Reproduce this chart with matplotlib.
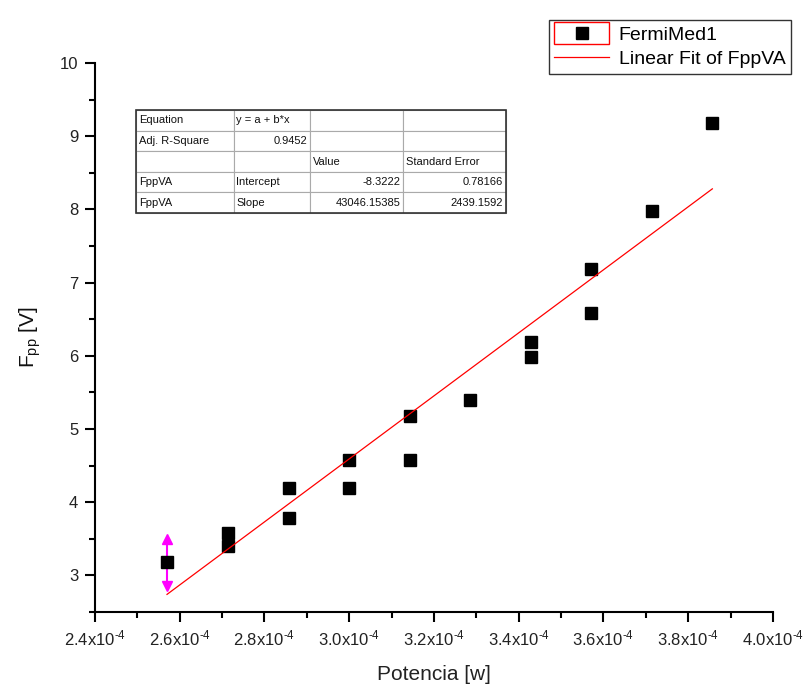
import numpy as np
import matplotlib
matplotlib.use('Agg')
import matplotlib.pyplot as plt
from matplotlib.ticker import MultipleLocator, FuncFormatter
from matplotlib.legend_handler import HandlerBase
from matplotlib.patches import Rectangle
from matplotlib.lines import Line2D

plt.rcParams['font.family'] = ['Liberation Sans', 'DejaVu Sans']
plt.rcParams['mathtext.fontset'] = 'custom'
plt.rcParams['mathtext.rm'] = 'Liberation Sans'
plt.rcParams['mathtext.it'] = 'Liberation Sans:italic'
plt.rcParams['axes.unicode_minus'] = False

# Measured data
potencia = [2.57e-4, 2.714e-4, 2.714e-4, 2.857e-4, 2.857e-4, 3.0e-4, 3.0e-4,
            3.143e-4, 3.143e-4, 3.286e-4, 3.429e-4, 3.429e-4, 3.571e-4, 3.571e-4,
            3.714e-4, 3.857e-4]
fpp = [3.18, 3.58, 3.40, 4.19, 3.78, 4.58, 4.19, 5.18, 4.58, 5.39, 6.19, 5.99,
       7.18, 6.58, 7.98, 9.18]
err_idx = 0
err_val = 0.32

# Fit results
intercept = -8.3222
slope = 43046.15385
table_rows = [
    ["Equation", "y = a + b*x", "", ""],
    ["Adj. R-Square", "0.9452", "", ""],
    ["", "", "Value", "Standard Error"],
    ["FppVA", "Intercept", "-8.3222", "0.78166"],
    ["FppVA", "Slope", "43046.15385", "2439.1592"],
]


class BoxedMarker(HandlerBase):
    # Origin-style legend symbol: marker inside a red box
    def create_artists(self, legend, orig, xd, yd, w, h, fontsize, trans):
        box = Rectangle((xd, yd - 0.3 * h), w, 1.6 * h, fc='none', ec='red', lw=1, transform=trans)
        mk = Line2D([xd + w / 2], [yd + h / 2], marker='s', color='k', ms=8, ls='none', transform=trans)
        return [box, mk]


fig = plt.figure(figsize=(8.09, 7.0), dpi=100)
ax = fig.add_axes([0.1174, 0.1257, 0.838, 0.7843])

sc, = ax.plot(potencia, fpp, 's', color='black', ms=9, label='FermiMed1', zorder=3)

# error bar on the first point
ex, ey = potencia[err_idx], fpp[err_idx]
ax.vlines(ex, ey - err_val, ey + err_val, color='magenta', lw=1.5, zorder=2)
ax.plot([ex], [ey + err_val], marker='^', color='magenta', ms=7, ls='none', zorder=2)
ax.plot([ex], [ey - err_val], marker='v', color='magenta', ms=7, ls='none', zorder=2)

xf = np.array([min(potencia), max(potencia)])
fit, = ax.plot(xf, intercept + slope * xf, color='red', lw=0.9, label='Linear Fit of FppVA', zorder=4)

ax.set_xlim(2.4e-4, 4.0e-4)
ax.set_ylim(2.5, 10)
ax.xaxis.set_major_locator(MultipleLocator(0.2e-4))
ax.xaxis.set_minor_locator(MultipleLocator(0.1e-4))
ax.yaxis.set_major_locator(MultipleLocator(1))
ax.yaxis.set_minor_locator(MultipleLocator(0.5))
ax.xaxis.set_major_formatter(FuncFormatter(lambda v, p: f"{v * 1e4:.1f}x10$^{{\\text{{-4}}}}$"))
ax.yaxis.set_major_formatter(FuncFormatter(lambda v, p: f"{v:g}"))

for s in ['top', 'right']:
    ax.spines[s].set_visible(False)
for s in ['left', 'bottom']:
    ax.spines[s].set_linewidth(1.5)
ax.tick_params(which='major', direction='out', length=7, width=1.5, labelsize=12, colors='black', labelcolor='#222222', pad=5)
ax.tick_params(which='minor', direction='out', length=4, width=1.5)

ax.set_xlabel('Potencia [w]', fontsize=15, color='#222222', labelpad=12)
ax.set_ylabel('F$_{\\rm pp}$ [V]', fontsize=15, color='#111111', labelpad=12)

tbl = ax.table(cellText=table_rows, colWidths=[98, 76, 93, 103],
               bbox=[0.0605, 0.727, 0.546, 0.187], zorder=5)
tbl.auto_set_font_size(False)
tbl.set_fontsize(8)
for (r, c), cell in tbl.get_celld().items():
    cell.set_edgecolor('#aaaaaa')
    cell.set_linewidth(0.8)
    cell.set_facecolor('white')
    txt = table_rows[r][c]
    numeric = txt.replace('.', '').replace('-', '').isdigit()
    cell.set_text_props(ha='right' if numeric else 'left', color='#111111')
    cell.PAD = 0.03
frame = Rectangle((0.0605, 0.727), 0.546, 0.187, transform=ax.transAxes, fc='none', ec='#333333', lw=1.2, zorder=6)
ax.add_patch(frame)

leg = fig.legend([sc, fit], ['FermiMed1', 'Linear Fit of FppVA'],
                 handler_map={sc: BoxedMarker()}, loc='upper right',
                 bbox_to_anchor=(0.99, 0.985), fontsize=14, frameon=True,
                 fancybox=False, edgecolor='black', handlelength=2.8,
                 borderpad=0.3, labelspacing=0.35, handletextpad=0.5)
leg.get_frame().set_linewidth(1)

fig.savefig('out.png', dpi=100)
